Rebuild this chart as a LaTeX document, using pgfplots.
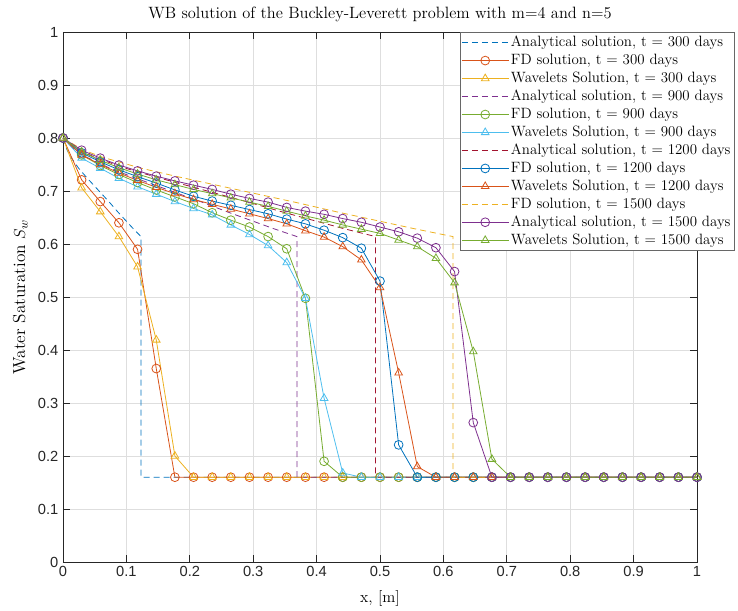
\documentclass[border=0pt]{standalone}
\usepackage{pgfplots}
\pgfplotsset{compat=1.18}
\usepackage{pgfplotstable}
\usepackage{fontspec}
\newfontfamily\tickfont{Liberation Sans}
\usetikzlibrary{calc}
\definecolor{mB}{HTML}{0072BD}
\definecolor{mO}{HTML}{D95319}
\definecolor{mY}{HTML}{EDB120}
\definecolor{mP}{HTML}{7E2F8E}
\definecolor{mG}{HTML}{77AC30}
\definecolor{mC}{HTML}{4DBEEE}
\definecolor{mR}{HTML}{A2142F}
\definecolor{axgray}{HTML}{262626}

\pgfplotstableread{
x fdA wvA fdB wvB fdC wvC pD wvD
0.0000 0.800 0.800 0.800 0.800 0.800 0.800 0.800 0.800
0.0294 0.721 0.706 0.768 0.762 0.772 0.768 0.777 0.774
0.0588 0.680 0.661 0.748 0.743 0.755 0.750 0.762 0.758
0.0882 0.640 0.614 0.731 0.724 0.740 0.734 0.749 0.744
0.1176 0.590 0.557 0.716 0.708 0.727 0.720 0.738 0.732
0.1471 0.365 0.419 0.702 0.694 0.715 0.707 0.728 0.721
0.1765 0.160 0.200 0.689 0.680 0.702 0.695 0.719 0.712
0.2059 0.160 0.160 0.676 0.667 0.690 0.684 0.711 0.703
0.2353 0.160 0.160 0.659 0.655 0.681 0.675 0.703 0.695
0.2647 0.160 0.160 0.645 0.636 0.673 0.666 0.694 0.687
0.2941 0.160 0.160 0.632 0.618 0.665 0.657 0.686 0.679
0.3235 0.160 0.160 0.614 0.597 0.657 0.648 0.679 0.671
0.3529 0.160 0.160 0.591 0.565 0.647 0.638 0.669 0.662
0.3824 0.160 0.160 0.4975 0.4975 0.638 0.625 0.662 0.653
0.4118 0.160 0.160 0.190 0.309 0.626 0.613 0.656 0.645
0.4412 0.160 0.160 0.160 0.168 0.612 0.595 0.648 0.636
0.4706 0.160 0.160 0.160 0.160 0.592 0.570 0.641 0.628
0.5000 0.160 0.160 0.160 0.160 0.530 0.518 0.632 0.620
0.5294 0.160 0.160 0.160 0.160 0.221 0.357 0.623 0.6075
0.5588 0.160 0.160 0.160 0.160 0.160 0.180 0.611 0.595
0.5882 0.160 0.160 0.160 0.160 0.160 0.160 0.593 0.573
0.6176 0.160 0.160 0.160 0.160 0.160 0.160 0.548 0.527
0.6471 0.160 0.160 0.160 0.160 0.160 0.160 0.263 0.397
0.6765 0.160 0.160 0.160 0.160 0.160 0.160 0.160 0.194
0.7059 0.160 0.160 0.160 0.160 0.160 0.160 0.160 0.160
0.7353 0.160 0.160 0.160 0.160 0.160 0.160 0.160 0.160
0.7647 0.160 0.160 0.160 0.160 0.160 0.160 0.160 0.160
0.7941 0.160 0.160 0.160 0.160 0.160 0.160 0.160 0.160
0.8235 0.160 0.160 0.160 0.160 0.160 0.160 0.160 0.160
0.8529 0.160 0.160 0.160 0.160 0.160 0.160 0.160 0.160
0.8824 0.160 0.160 0.160 0.160 0.160 0.160 0.160 0.160
0.9118 0.160 0.160 0.160 0.160 0.160 0.160 0.160 0.160
0.9412 0.160 0.160 0.160 0.160 0.160 0.160 0.160 0.160
0.9706 0.160 0.160 0.160 0.160 0.160 0.160 0.160 0.160
1.0000 0.160 0.160 0.160 0.160 0.160 0.160 0.160 0.160
}\data

\begin{document}
\begin{tikzpicture}
\begin{axis}[
  scale only axis, width=475.5pt, height=397.5pt,
  xmin=0, xmax=1, ymin=0, ymax=1,
  xtick={0,0.1,0.2,0.3,0.4,0.5,0.6,0.7,0.8,0.9,1},
  ytick={0,0.1,0.2,0.3,0.4,0.5,0.6,0.7,0.8,0.9,1},
  xticklabels={0,0.1,0.2,0.3,0.4,0.5,0.6,0.7,0.8,0.9,1},
  yticklabels={0,0.1,0.2,0.3,0.4,0.5,0.6,0.7,0.8,0.9,1},
  ticklabel style={font=\tickfont\fontsize{11}{13}\selectfont, text=axgray},
  /pgf/number format/assume math mode=true,
  tick align=inside, major tick length=5pt,
  tick style={axgray, line width=0.5pt},
  axis line style={axgray, line width=0.6pt},
  grid=major, major grid style={black!13, line width=0.5pt},
  title={\fontsize{12.3}{14}\selectfont WB solution of the Buckley-Leverett problem with m=4 and n=5},
  title style={at={(axis description cs:0.5,1)}, anchor=south, yshift=-1.8pt},
  xlabel={\fontsize{12}{14}\selectfont x, [m]},
  xlabel style={at={(axis description cs:0.5,0)}, anchor=center, yshift=-27pt},
  ylabel={\fontsize{13}{15}\selectfont Water Saturation $S_w$},
  ylabel style={at={(axis description cs:-0.0673,0.5)}, anchor=center, rotate=0},
  legend style={at={(axis description cs:0.626,1)}, anchor=north west,
    font=\fontsize{11.2}{13}\selectfont, draw=axgray!70, fill=white,
    inner xsep=1pt, inner ysep=1.5pt, row sep=1.1pt,
    nodes={inner xsep=1.5pt, inner ysep=1.5pt}},
  legend cell align=left,
  legend image code/.code={\draw[mark repeat=2, mark phase=2, #1] plot coordinates {(0pt,0pt) (17.5pt,0pt) (35pt,0pt)};},
  every axis plot/.append style={line width=0.6pt, mark size=3.3pt, mark options={solid}},
]
\addplot[mB, dash pattern=on 4.5pt off 3pt] coordinates {
(0,0.8) (0.00615,0.778) (0.0123,0.764) (0.0246,0.743) (0.0369,0.726) (0.0492,0.710)
(0.0615,0.694) (0.0738,0.678) (0.0861,0.661) (0.0984,0.645) (0.1107,0.629) (0.123,0.614)
(0.123,0.16) (1,0.16)};
\addlegendentry{Analytical solution, t = 300 days}
\addplot[mO, mark=o] table[x=x, y=fdA]{\data};
\addlegendentry{FD solution, t = 300 days}
\addplot[mY, mark=triangle] table[x=x, y=wvA]{\data};
\addlegendentry{Wavelets Solution, t = 300 days}
\addplot[mP, dash pattern=on 4.5pt off 3pt] coordinates {
(0,0.8) (0.01845,0.778) (0.0369,0.764) (0.0738,0.743) (0.1107,0.726) (0.1476,0.710)
(0.1845,0.694) (0.2214,0.678) (0.2583,0.661) (0.2952,0.645) (0.3321,0.629) (0.369,0.614)
(0.369,0.16) (1,0.16)};
\addlegendentry{Analytical solution, t = 900 days}
\addplot[mG, mark=o] table[x=x, y=fdB]{\data};
\addlegendentry{FD solution, t = 900 days}
\addplot[mC, mark=triangle] table[x=x, y=wvB]{\data};
\addlegendentry{Wavelets Solution, t = 900 days}
\addplot[mR, dash pattern=on 4.5pt off 3pt] coordinates {
(0,0.8) (0.0246,0.778) (0.0492,0.764) (0.0984,0.743) (0.1476,0.726) (0.1968,0.710)
(0.246,0.694) (0.2952,0.678) (0.3444,0.661) (0.3936,0.645) (0.4428,0.629) (0.493,0.614)
(0.493,0.16) (1,0.16)};
\addlegendentry{Analytical solution, t = 1200 days}
\addplot[mB, mark=o] table[x=x, y=fdC]{\data};
\addlegendentry{FD solution, t = 1200 days}
\addplot[mO, mark=triangle] table[x=x, y=wvC]{\data};
\addlegendentry{Wavelets Solution, t = 1200 days}
\addplot[mY, dash pattern=on 4.5pt off 3pt] coordinates {
(0,0.8) (0.03075,0.778) (0.0615,0.764) (0.123,0.743) (0.1845,0.726) (0.246,0.710)
(0.3075,0.694) (0.369,0.678) (0.4305,0.661) (0.492,0.645) (0.5535,0.629) (0.615,0.614)
(0.615,0.16) (1,0.16)};
\addlegendentry{FD solution, t = 1500 days}
\addplot[mP, mark=o] table[x=x, y=pD]{\data};
\addlegendentry{Analytical solution, t = 1500 days}
\addplot[mG, mark=triangle] table[x=x, y=wvD]{\data};
\addlegendentry{Wavelets Solution, t = 1500 days}
\end{axis}
\pgfresetboundingbox
\path[use as bounding box] ($(current axis.south west)+(-47.25pt,-36pt)$) rectangle ($(current axis.north east)+(30.75pt,24pt)$);
\end{tikzpicture}
\end{document}
